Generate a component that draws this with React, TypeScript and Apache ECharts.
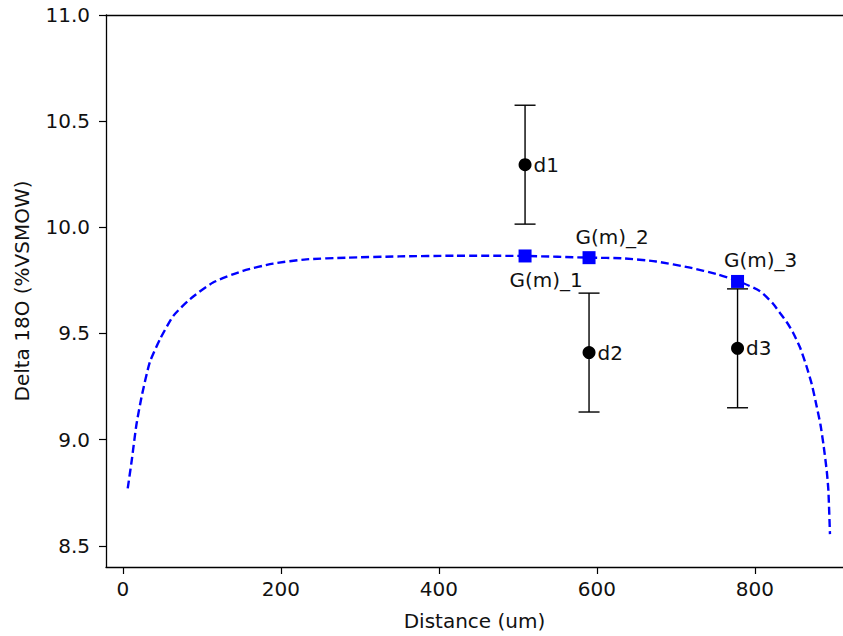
import React, { useEffect, useRef } from "react";
import * as echarts from "echarts";

// Model curve (distance um, delta 18O)
const curveX = [6, 11, 17, 24, 34, 47, 64, 85, 114, 152, 190, 232, 283, 350, 420, 509, 591, 633, 675, 718, 752, 778, 806, 823, 832, 840, 848, 857, 865, 872, 878, 883, 887, 891, 893, 895];
const curveY = [8.77, 8.9, 9.07, 9.21, 9.365, 9.474, 9.584, 9.662, 9.74, 9.795, 9.829, 9.849, 9.857, 9.863, 9.866, 9.865, 9.857, 9.854, 9.839, 9.81, 9.779, 9.748, 9.7, 9.64, 9.595, 9.555, 9.506, 9.435, 9.349, 9.26, 9.16, 9.07, 8.97, 8.85, 8.76, 8.555];

// Measured points
const dNames = ["d1", "d2", "d3"];
const dX = [509, 590, 778];
const dY = [10.295, 9.41, 9.43];
const dErr = [0.28, 0.28, 0.28];

// Model points
const gNames = ["G(m)_1", "G(m)_2", "G(m)_3"];
const gX = [509, 590, 778];
const gY = [9.865, 9.857, 9.745];
const gLabelAbove = [false, true, true];

const xTicks = [0, 200, 400, 600, 800];
const yTicks = [8.5, 9.0, 9.5, 10.0, 10.5, 11.0];

const FONT = "DejaVu Sans";
const FS = 20;
const TXT = "#111";

export default function App() {
  const ref = useRef<HTMLDivElement>(null);
  useEffect(() => {
    if (!ref.current) return;
    const chart = echarts.init(ref.current, null, { renderer: "svg" });
    const curveData = curveX.map((x, i) => [x, curveY[i]]);
    const errData = dX.map((x, i) => [x, dY[i], dErr[i]]);
    const dData = dX.map((x, i) => ({ value: [x, dY[i]], name: dNames[i] }));
    const gData = gX.map((x, i) => ({
      value: [x, gY[i]],
      name: gNames[i],
      label: { offset: gLabelAbove[i] ? [23, -21] : [21, 24] },
    }));
    chart.setOption({
      animation: false,
      backgroundColor: "#fff",
      textStyle: { fontFamily: FONT },
      grid: { left: 106, top: 15, right: 0, bottom: 67, containLabel: false },
      xAxis: [
        {
          type: "value",
          min: -21.5,
          max: 911.5,
          name: "Distance (um)",
          nameLocation: "middle",
          nameGap: 44,
          nameTextStyle: { fontSize: FS, color: TXT, fontFamily: FONT },
          axisLine: { show: true, onZero: false, lineStyle: { color: "#000", width: 1.3 } },
          axisTick: { show: true, length: 7, customValues: xTicks, lineStyle: { color: "#000", width: 1.2 } },
          axisLabel: { customValues: xTicks, fontSize: FS, color: TXT, fontFamily: FONT, margin: 12 },
          splitLine: { show: false },
        },
        {
          type: "value",
          position: "top",
          min: -21.5,
          max: 911.5,
          axisLine: { show: true, onZero: false, lineStyle: { color: "#000", width: 1.3 } },
          axisTick: { show: false },
          axisLabel: { show: false },
          splitLine: { show: false },
        },
      ],
      yAxis: {
        type: "value",
        min: 8.4,
        max: 11.0,
        name: "Delta 18O (%VSMOW)",
        nameLocation: "middle",
        nameGap: 74,
        nameTextStyle: { fontSize: FS, color: TXT, fontFamily: FONT },
        axisLine: { show: true, onZero: false, lineStyle: { color: "#000", width: 1.3 } },
        axisTick: { show: true, length: 7, customValues: yTicks, lineStyle: { color: "#000", width: 1.2 } },
        axisLabel: {
          customValues: yTicks,
          fontSize: FS,
          color: TXT,
          fontFamily: FONT,
          margin: 16,
          formatter: (v: number) => v.toFixed(1),
        },
        splitLine: { show: false },
      },
      series: [
        {
          type: "line",
          data: curveData,
          showSymbol: false,
          smooth: 0.2,
          lineStyle: { color: "#0000ff", width: 2.4, type: [8, 4] },
          z: 1,
        },
        {
          type: "custom",
          data: errData,
          z: 2,
          renderItem: (params: any, api: any) => {
            const x = api.value(0);
            const y = api.value(1);
            const e = api.value(2);
            const top = api.coord([x, y + e]);
            const bot = api.coord([x, y - e]);
            const c = 10.5;
            const style = { stroke: "#000", lineWidth: 1.4 };
            return {
              type: "group",
              children: [
                { type: "line", shape: { x1: top[0], y1: top[1], x2: bot[0], y2: bot[1] }, style },
                { type: "line", shape: { x1: top[0] - c, y1: top[1], x2: top[0] + c, y2: top[1] }, style },
                { type: "line", shape: { x1: bot[0] - c, y1: bot[1], x2: bot[0] + c, y2: bot[1] }, style },
              ],
            };
          },
        },
        {
          type: "scatter",
          data: dData,
          symbol: "circle",
          symbolSize: 13,
          itemStyle: { color: "#000", opacity: 1 },
          z: 3,
          label: {
            show: true,
            position: "right",
            distance: 2,
            formatter: (p: any) => p.name,
            fontSize: FS,
            color: TXT,
            fontFamily: FONT,
          },
        },
        {
          type: "scatter",
          data: gData,
          symbol: "rect",
          symbolSize: 13,
          itemStyle: { color: "#0000ff", opacity: 1 },
          z: 4,
          label: {
            show: true,
            position: "inside",
            formatter: (p: any) => p.name,
            fontSize: FS,
            color: TXT,
            fontFamily: FONT,
          },
        },
      ],
    });
    return () => chart.dispose();
  }, []);
  return (
    <div
      ref={ref}
      style={{ position: "fixed", left: 0, top: 0, width: 843, height: 636, background: "#fff" }}
    />
  );
}
